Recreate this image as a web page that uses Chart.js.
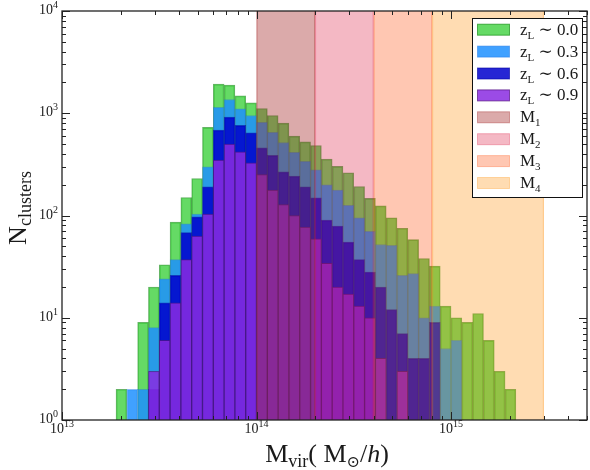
<!DOCTYPE html>
<html>
<head>
<meta charset="utf-8">
<script src="https://cdn.jsdelivr.net/npm/chart.js@4.4.1/dist/chart.umd.min.js"></script>
<style>
  html, body { margin: 0; padding: 0; background: #fff; }
  #wrap { width: 590px; height: 470px; }
</style>
</head>
<body>
<div id="wrap"><canvas id="chart"></canvas></div>
<script>
// log10 of bin centres (18 bins per decade)
const logMassCentres = [
  13.3056, 13.3611, 13.4167, 13.4722, 13.5278, 13.5833, 13.6389, 13.6944, 13.7500, 13.8056,
  13.8611, 13.9167, 13.9722, 14.0278, 14.0833, 14.1389, 14.1944, 14.2500, 14.3056, 14.3611,
  14.4167, 14.4722, 14.5278, 14.5833, 14.6389, 14.6944, 14.7500, 14.8056, 14.8611, 14.9167,
  14.9722, 15.0278, 15.0833, 15.1389, 15.1944, 15.2500, 15.3056
];
const countsZ00 = [2, 0, 9, 20, 33, 86, 150, 230, 727, 1925, 1884, 1479, 1265, 1114, 951, 800, 597, 525, 484, 356,
  302, 262, 192, 147, 124, 95, 75, 58, 38, 32, 13, 10, 9, 11, 6, 3, 2];
const countsZ03 = [0, 2, 2, 8, 24, 37, 83, 103, 299, 1140, 1364, 1104, 951, 813, 649, 518, 414, 338, 280, 200,
  177, 126, 95, 70, 52, 51, 26, 27, 10, 13, 5, 6, 0, 0, 0, 0, 0];
const countsZ06 = [0, 0, 0, 2, 14, 26, 68, 97, 191, 684, 916, 760, 644, 459, 387, 267, 243, 191, 149, 90,
  79, 55, 37, 28, 20, 12, 7, 4, 4, 9, 0, 0, 0, 0, 0, 0, 0];
const countsZ09 = [0, 0, 0, 3, 6, 14, 37, 63, 103, 348, 499, 420, 327, 252, 177, 128, 100, 77, 59, 34,
  20, 17, 13, 10, 4, 0, 3, 0, 0, 0, 0, 0, 0, 0, 0, 0, 0];

const zLabels = ['0.0', '0.3', '0.6', '0.9'];
const spanLabels = ['1', '2', '3', '4'];
const spanEdges = [1e14, 2e14, 4e14, 8e14, 3e15];

const xDecades = [13, 14, 15];
const yDecades = [0, 1, 2, 3, 4];
const xMin = 1e13, xMax = 5e15;
const yMin = 1, yMax = 1e4;

const seriesFill = ['rgba(50,205,50,0.75)', 'rgba(30,144,255,0.85)', 'rgba(0,0,205,0.85)', 'rgba(138,43,226,0.85)'];
const seriesEdge = ['rgba(0,128,0,0.6)', 'rgba(30,120,230,0.5)', 'rgba(0,0,160,0.6)', 'rgba(85,20,130,0.7)'];
const spanFill = ['rgba(165,42,42,0.4)', 'rgba(220,20,60,0.3)', 'rgba(255,69,0,0.3)', 'rgba(255,140,0,0.3)'];

const TXT = '#1a1a1a';
const FAMILY = '"Liberation Serif", "DejaVu Serif", serif';

function toPoints(counts) {
  const pts = [];
  counts.forEach((c, i) => { if (c > 0) pts.push({ x: Math.pow(10, logMassCentres[i]), y: c }); });
  return pts;
}

// minor + major tick positions for the inward tick marks
function logTicks(decades, lo, hi) {
  const out = [];
  decades.forEach(d => {
    for (let m = 1; m <= 9; m++) {
      const v = m * Math.pow(10, d);
      if (v >= lo * 0.999 && v <= hi * 1.001) out.push(v);
    }
  });
  return out;
}
const xTickValues = logTicks(xDecades, xMin, xMax);
const yTickValues = logTicks(yDecades, yMin, yMax);

const font = p => (p.it ? 'italic ' : '') + p.s + 'px ' + FAMILY;
function drawRich(ctx, parts, x, y, align) {
  let w = 0;
  parts.forEach(p => { ctx.font = font(p); w += ctx.measureText(p.t).width; });
  let cx = align === 'center' ? x - w / 2 : align === 'right' ? x - w : x;
  parts.forEach(p => {
    ctx.font = font(p);
    ctx.fillText(p.t, cx, y + (p.dy || 0));
    cx += ctx.measureText(p.t).width;
  });
}
const isDecade = v => Math.abs(Math.log10(v) - Math.round(Math.log10(v))) < 1e-6;

const decor = {
  id: 'decor',
  afterDatasetsDraw(chart) {
    const { ctx, chartArea: a, scales: { x } } = chart;
    ctx.save();
    ctx.beginPath();
    ctx.rect(a.left, a.top, a.right - a.left, a.bottom - a.top);
    ctx.clip();
    for (let i = 0; i < spanFill.length; i++) {
      const x0 = x.getPixelForValue(spanEdges[i]);
      const x1 = x.getPixelForValue(spanEdges[i + 1]);
      ctx.fillStyle = spanFill[i];
      ctx.fillRect(x0, a.top, x1 - x0, a.bottom - a.top);
      ctx.strokeStyle = spanFill[i];
      ctx.lineWidth = 1;
      ctx.strokeRect(x0 + 0.5, a.top - 1, x1 - x0 - 1, a.bottom - a.top + 2);
    }
    ctx.restore();
  },
  afterDraw(chart) {
    const { ctx, chartArea: a, scales: { x, y } } = chart;
    ctx.save();
    // frame
    ctx.strokeStyle = '#222';
    ctx.lineWidth = 1.3;
    ctx.strokeRect(a.left, a.top, a.right - a.left, a.bottom - a.top);
    // inward ticks
    ctx.lineWidth = 1;
    ctx.beginPath();
    xTickValues.forEach(v => {
      const px = Math.round(x.getPixelForValue(v)) + 0.5;
      const len = isDecade(v) ? 8 : 4;
      ctx.moveTo(px, a.bottom); ctx.lineTo(px, a.bottom - len);
      ctx.moveTo(px, a.top); ctx.lineTo(px, a.top + len);
    });
    yTickValues.forEach(v => {
      const py = Math.round(y.getPixelForValue(v)) + 0.5;
      const len = isDecade(v) ? 8 : 4;
      ctx.moveTo(a.left, py); ctx.lineTo(a.left + len, py);
      ctx.moveTo(a.right, py); ctx.lineTo(a.right - len, py);
    });
    ctx.stroke();

    // tick labels (decades only, taken from the scales' ticks)
    ctx.fillStyle = TXT;
    ctx.textBaseline = 'alphabetic';
    ctx.textAlign = 'left';
    x.ticks.forEach(t => {
      const e = Math.round(Math.log10(t.value));
      drawRich(ctx, [{ t: '10', s: 14 }, { t: String(e), s: 10, dy: -6 }], x.getPixelForValue(t.value), a.bottom + 13, 'center');
    });
    y.ticks.forEach(t => {
      const e = Math.round(Math.log10(t.value));
      drawRich(ctx, [{ t: '10', s: 14 }, { t: String(e), s: 10, dy: -6 }], a.left - 4, y.getPixelForValue(t.value) + 3, 'right');
    });

    // axis titles
    drawRich(ctx, [
      { t: 'M', s: 26 }, { t: 'vir', s: 18, dy: 5 }, { t: '( M', s: 26 }, { t: '⊙', s: 16, dy: 5 },
      { t: '/', s: 26 }, { t: 'h', s: 26, it: true }, { t: ')', s: 26 }
    ], 327, 462, 'center');

    ctx.save();
    ctx.translate(26, 208);
    ctx.rotate(-Math.PI / 2);
    drawRich(ctx, [{ t: 'N', s: 26 }, { t: 'clusters', s: 18, dy: 5 }], 0, 0, 'center');
    ctx.restore();

    // legend
    const lx = 472.5, ly = 18.5, lw = 110, lh = 179;
    ctx.fillStyle = '#fff';
    ctx.fillRect(lx, ly, lw, lh);
    ctx.strokeStyle = '#111';
    ctx.lineWidth = 1;
    ctx.strokeRect(lx, ly, lw, lh);
    const rows = [];
    chart.data.datasets.forEach((ds, i) => rows.push({
      fill: ds.backgroundColor, edge: ds.borderColor,
      parts: [{ t: 'z', s: 17 }, { t: 'L', s: 11, dy: 4 }, { t: ' ∼ ' + zLabels[i], s: 17 }]
    }));
    spanLabels.forEach((l, i) => rows.push({
      fill: spanFill[i], edge: spanFill[i],
      parts: [{ t: 'M', s: 17 }, { t: l, s: 11, dy: 4 }]
    }));
    rows.forEach((r, i) => {
      const yc = 29.7 + i * 21.9;
      ctx.fillStyle = r.fill;
      ctx.fillRect(477.5, yc - 5.5, 32, 11);
      ctx.strokeStyle = r.edge;
      ctx.lineWidth = 1;
      ctx.strokeRect(477.5, yc - 5.5, 32, 11);
      ctx.fillStyle = TXT;
      drawRich(ctx, r.parts, 520, yc + 5, 'left');
    });
    ctx.restore();
  }
};

const datasets = [countsZ00, countsZ03, countsZ06, countsZ09].map((c, i) => ({
  label: 'z_L ~ ' + zLabels[i],
  data: toPoints(c),
  backgroundColor: seriesFill[i],
  borderColor: seriesEdge[i],
  borderWidth: 1,
  borderSkipped: 'start',
  grouped: false,
  barPercentage: 1,
  categoryPercentage: 1,
  order: 4 - i
}));

new Chart(document.getElementById('chart'), {
  type: 'bar',
  data: { datasets },
  options: {
    responsive: true,
    maintainAspectRatio: false,
    animation: false,
    layout: { padding: { top: 11, right: 3, left: 0, bottom: 0 } },
    plugins: { legend: { display: false }, tooltip: { enabled: false } },
    scales: {
      x: {
        type: 'logarithmic',
        min: xMin, max: xMax,
        offset: false,
        grid: { display: false },
        border: { display: false },
        ticks: { display: false },
        afterBuildTicks: s => { s.ticks = xDecades.map(d => ({ value: Math.pow(10, d) })); },
        afterFit: s => { s.height = 50; }
      },
      y: {
        type: 'logarithmic',
        min: yMin, max: yMax,
        grid: { display: false },
        border: { display: false },
        ticks: { display: false },
        afterBuildTicks: s => { s.ticks = yDecades.map(d => ({ value: Math.pow(10, d) })); },
        afterFit: s => { s.width = 62; }
      }
    }
  },
  plugins: [decor]
});
</script>
</body>
</html>
